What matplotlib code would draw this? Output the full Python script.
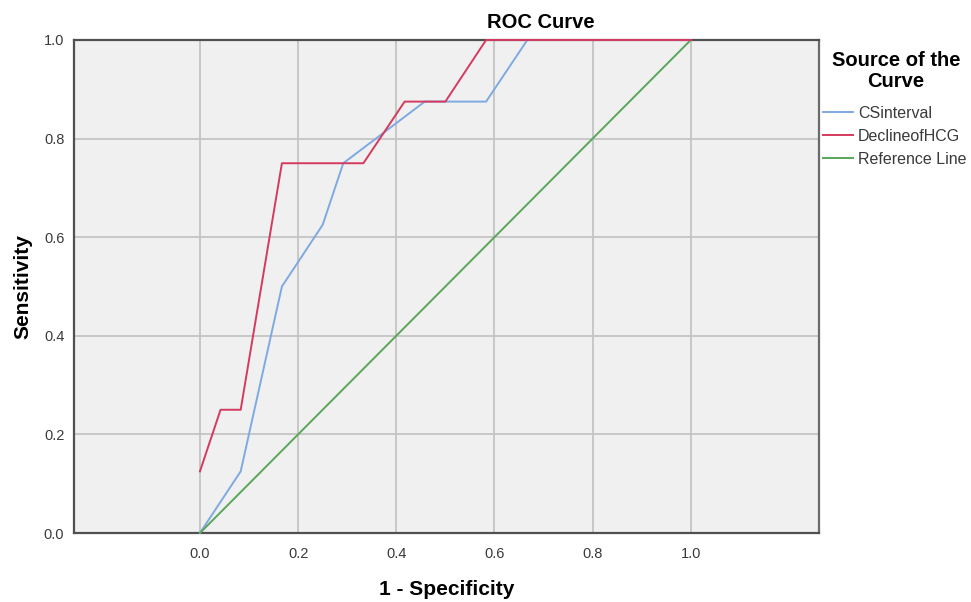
import matplotlib.pyplot as plt

plt.rcParams['font.family'] = ['Liberation Sans', 'DejaVu Sans']

# ROC 좌표 (1 - 특이도, 민감도)
cs_fpr = [0.0, 0.083, 0.167, 0.25, 0.292, 0.458, 0.583, 0.667, 1.0]
cs_tpr = [0.0, 0.125, 0.5, 0.625, 0.75, 0.875, 0.875, 1.0, 1.0]
hcg_fpr = [0.0, 0.042, 0.083, 0.167, 0.333, 0.417, 0.5, 0.583, 1.0]
hcg_tpr = [0.125, 0.25, 0.25, 0.75, 0.75, 0.875, 0.875, 1.0, 1.0]
ref_x = [0.0, 1.0]
ref_y = [0.0, 1.0]
ticks = [0.0, 0.2, 0.4, 0.6, 0.8, 1.0]
labels = ['CSinterval', 'DeclineofHCG', 'Reference Line']

fig = plt.figure(figsize=(9.71, 6.02), dpi=100)
ax = fig.add_axes([0.0762, 0.1146, 0.767, 0.819])
ax.set_facecolor('#f0f0f0')

ax.plot(cs_fpr, cs_tpr, color='#7fa9e3', lw=1.4, label=labels[0], clip_on=False, zorder=3)
ax.plot(hcg_fpr, hcg_tpr, color='#d43a5e', lw=1.4, label=labels[1], clip_on=False, zorder=4)
ax.plot(ref_x, ref_y, color='#5aa65a', lw=1.4, label=labels[2], zorder=3)

ax.set_xlim(-0.2566, 1.2607)
ax.set_ylim(0, 1)
ax.set_xticks(ticks)
ax.set_yticks(ticks)
ax.set_xticklabels(['%.1f' % t for t in ticks])
ax.set_yticklabels(['%.1f' % t for t in ticks])
ax.tick_params(length=0, labelsize=10.5, labelcolor='#3a3a3a')
ax.tick_params(axis='x', pad=10)
ax.tick_params(axis='y', pad=7)
ax.grid(True, color='#c4c4c4', lw=1.3)
ax.set_axisbelow(True)

for side in ['left', 'bottom', 'top', 'right']:
    ax.spines[side].set_color('#505050')
    ax.spines[side].set_linewidth(1.6)
ax.spines['right'].set_color('#6a6a6a')

ax.set_xlabel('1 - Specificity', fontsize=15, fontweight='bold', labelpad=14)
ax.set_ylabel('Sensitivity', fontsize=15, fontweight='bold', labelpad=8)
fig.text(541 / 971, 1 - 23 / 602, 'ROC Curve', fontsize=14.5, fontweight='bold',
         ha='center', va='center')

# 범례 제목은 따로 배치
fig.text(896 / 971, 1 - 71 / 602, 'Source of the\nCurve', fontsize=14.5,
         fontweight='bold', ha='center', va='center', multialignment='center',
         linespacing=1.12)
leg = fig.legend(loc='upper left', bbox_to_anchor=(823 / 971, 1 - 106 / 602),
                 frameon=False, fontsize=11.5,
                 handlelength=1.9, handletextpad=0.3, labelspacing=0.5,
                 borderaxespad=0, borderpad=0)
for t in leg.get_texts():
    t.set_color('#3a3a3a')

fig.savefig('out.png', dpi=100)
